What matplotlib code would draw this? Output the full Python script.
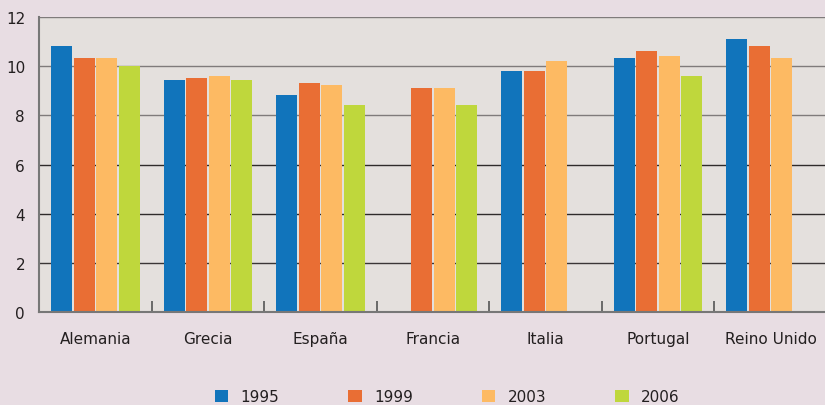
import numpy as np
from matplotlib import pyplot as plt

countries = ["Alemania", "Grecia", "España", "Francia", "Italia", "Portugal", "Reino Unido"]
years = ["1995", "1999", "2003", "2006"]
v1995 = [10.82, 9.44, 8.83, 0.06, 9.80, 10.33, 11.10]
v1999 = [10.33, 9.52, 9.32, 9.11, 9.80, 10.62, 10.82]
v2003 = [10.33, 9.60, 9.24, 9.11, 10.21, 10.41, 10.33]
v2006 = [10.00, 9.44, 8.42, 8.42, 0.06, 9.60, 0.06]
series = [v1995, v1999, v2003, v2006]
colors = ["#1174bb", "#e96e34", "#fdba63", "#bfd73c"]

fig = plt.figure(figsize=(8.25, 4.06), dpi=100, facecolor="#e8dde3")
ax = fig.add_axes([39 / 825, 1 - 313 / 406, 788 / 825, 295 / 406])
ax.set_facecolor("#e4e0dd")

x = np.arange(len(countries))
pitch = 0.2
width = 0.187
for i, (vals, c) in enumerate(zip(series, colors)):
    ax.bar(x + (i - 1.5) * pitch, vals, width, color=c, label=years[i], zorder=3)

# gridlines
grid_colors = {2: "#3a3636", 4: "#2f2b2b", 6: "#2f2b2b", 8: "#7f7b7b", 10: "#7f7b7b", 12: "#7f7b7b"}
for y, c in grid_colors.items():
    ax.axhline(y, color=c, lw=1.0, zorder=1)

ax.set_xlim(-0.5, len(countries) - 0.5)
ax.set_ylim(0, 12)
ax.set_yticks(range(0, 13, 2))
ax.set_xticks(x)
ax.set_xticklabels(countries)
ax.set_xticks(np.arange(0.5, len(countries) - 0.5, 1), minor=True)
ax.tick_params(axis="x", which="major", length=0, pad=14, labelsize=11, colors="#231f20")
ax.tick_params(axis="x", which="minor", direction="in", length=8, width=1.2, color="#555")
ax.tick_params(axis="y", length=0, pad=10, labelsize=11, colors="#231f20")
for s in ["top", "right"]:
    ax.spines[s].set_visible(False)
for s in ["left", "bottom"]:
    ax.spines[s].set_color("#777")
    ax.spines[s].set_linewidth(1.5)
    ax.spines[s].set_zorder(4)

fig.legend(loc="center", bbox_to_anchor=(0.542, 0.02), ncol=4, frameon=False,
           handlelength=0.9, handleheight=0.9, columnspacing=4.5, handletextpad=0.8,
           fontsize=11, labelcolor="#231f20")

fig.savefig("out.png", dpi=100, facecolor=fig.get_facecolor())
